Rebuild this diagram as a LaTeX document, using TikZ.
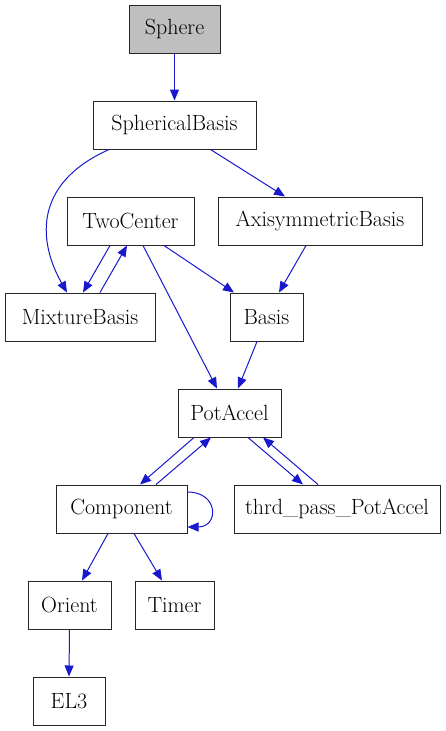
\documentclass[tikz,border=0pt]{standalone}
\usetikzlibrary{arrows.meta}
\definecolor{edgeblue}{RGB}{24,24,205}
\definecolor{rootgray}{RGB}{191,191,191}
\tikzset{
    cls/.style={draw=black!85, line width=1pt, inner xsep=6pt, minimum height=48pt,
        minimum width=#1, font=\fontsize{22}{26}\selectfont},
    cls/.default=80pt,
    dep/.style={draw=edgeblue, line width=1pt, -{Triangle[length=11pt,width=9pt]}},
}
\begin{document}
\begin{tikzpicture}[x=1pt, y=-1pt]
    \useasboundingbox (0,0) rectangle (445,731);

    % Class nodes
    \node[cls=91pt, fill=rootgray] (sphere) at (174.5,29) {Sphere};
    \node[cls=163pt] (sb) at (174.5,125) {SphericalBasis};
    \node[cls=127pt] (tc) at (130.5,221) {TwoCenter};
    \node[cls=204pt] (ab) at (320,221) {AxisymmetricBasis};
    \node[cls=150pt] (mb) at (80,317) {MixtureBasis};
    \node[cls=73pt] (basis) at (266.5,317) {Basis};
    \node[cls=103pt] (pa) at (229.5,413) {PotAccel};
    \node[cls=131pt] (comp) at (121.5,509) {Component};
    \node[cls=206pt] (thrd) at (337,509) {thrd\_pass\_PotAccel};
    \node[cls=83pt] (orient) at (69.5,605) {Orient};
    \node[cls=79pt] (timer) at (174.5,605) {Timer};
    \node[cls=72pt] (el3) at (69,701) {EL3};

    % Dependencies
    \draw[dep] (sphere.south) -- (sb.north);
    \draw[dep] ([xshift=-65.5pt]sb.south) .. controls (30,185) and (40,245) .. ([xshift=-13pt]mb.north);
    \draw[dep] ([xshift=36pt]sb.south) -- ([xshift=-35pt]ab.north);
    \draw[dep] ([xshift=-20.5pt]tc.south) -- ([xshift=3pt]mb.north);
    \draw[dep] ([xshift=20pt]mb.north) -- ([xshift=-3.5pt]tc.south);
    \draw[dep] ([xshift=33.5pt]tc.south) -- ([xshift=-32.5pt]basis.north);
    \draw[dep] ([xshift=12.5pt]tc.south) -- ([xshift=-12.5pt]pa.north);
    \draw[dep] ([xshift=-14pt]ab.south) -- ([xshift=12.5pt]basis.north);
    \draw[dep] ([xshift=-9.5pt]basis.south) -- ([xshift=8.5pt]pa.north);
    \draw[dep] ([xshift=-35.5pt]pa.south) -- ([xshift=18.5pt]comp.north);
    \draw[dep] ([xshift=34.5pt]comp.north) -- ([xshift=-18.5pt]pa.south);
    \draw[dep] ([xshift=18.5pt]pa.south) -- ([xshift=-34pt]thrd.north);
    \draw[dep] ([xshift=-19pt]thrd.north) -- ([xshift=33.5pt]pa.south);
    \draw[dep] ([yshift=17pt]comp.east) .. controls (219,492) and (219,527) .. ([yshift=-18pt]comp.east);
    \draw[dep] ([xshift=-13.5pt]comp.south) -- ([xshift=12.5pt]orient.north);
    \draw[dep] ([xshift=12.5pt]comp.south) -- ([xshift=-12.5pt]timer.north);
    \draw[dep] (orient.south) -- (el3.north);
\end{tikzpicture}
\end{document}
